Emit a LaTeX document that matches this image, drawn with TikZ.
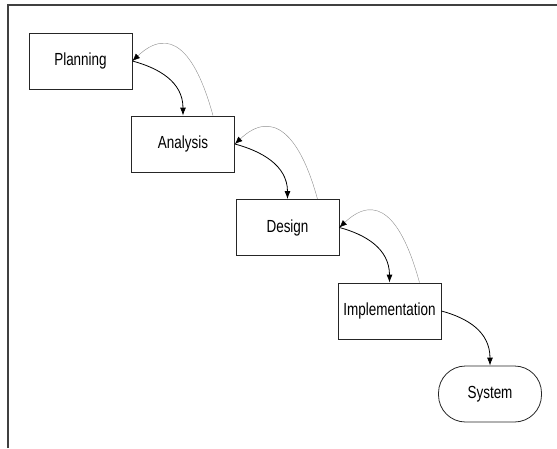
\documentclass[tikz,border=0pt]{standalone}
\usepackage{fontspec}
\setmainfont{Liberation Sans}[FakeStretch=0.77]
\usetikzlibrary{arrows.meta}
\begin{document}
\begin{tikzpicture}[x=1pt,y=-1pt,
  stepbox/.style={draw=black!85,line width=0.8pt,minimum width=103pt,minimum height=56pt,inner sep=0pt,font=\fontsize{17.5}{20}\selectfont},
  endbox/.style={stepbox,rounded corners=27pt},
  fwd/.style={draw=black,line width=0.8pt,-{Latex[length=8pt,width=6pt]}},
  back/.style={draw=black!45,line width=0.4pt,-{Latex[length=7.5pt,width=6pt,color=black]}}]
\useasboundingbox (0,0) rectangle (557,448);
\draw[black!75,line width=1.1pt] (8,448) -- (8,5) -- (557,5);
\node[stepbox] (p) at (80.5,61) {Planning};
\node[stepbox] (a) at (183,144) {Analysis};
\node[stepbox] (d) at (287.5,227.5) {Design};
\node[stepbox] (i) at (389.5,311) {Implementation};
\node[endbox] (s) at (490,394) {System};
\foreach \u/\v in {p/a,a/d,d/i,i/s}{
  \draw[fwd] (\u.east) .. controls +(26,7) and +(0,-34) .. (\v.north);
}
\foreach \u/\v in {p/a,a/d,d/i}{
  \draw[back] ([xshift=30pt]\v.north) .. controls +(-18,-66) and +(37,-35) .. (\u.east);
}
\end{tikzpicture}
\end{document}
